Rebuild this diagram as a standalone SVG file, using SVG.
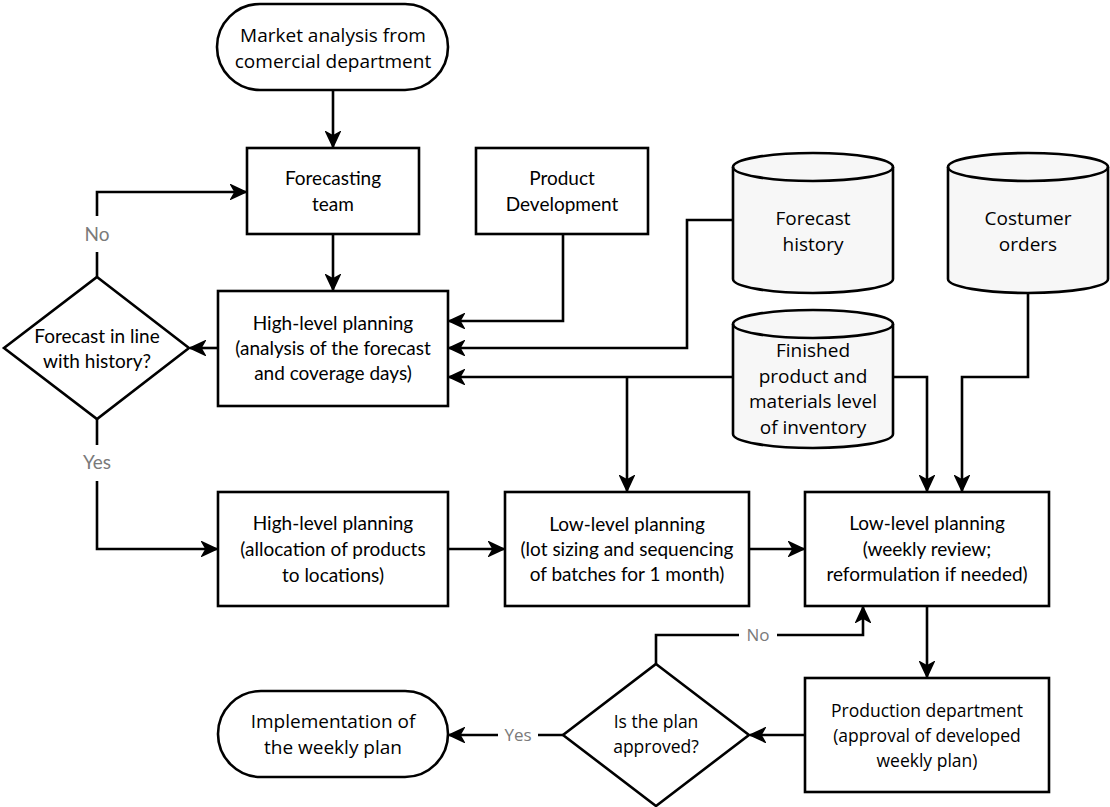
<svg xmlns="http://www.w3.org/2000/svg" width="1110" height="807" viewBox="0 0 1110 807">
  <style>
    .node { fill: #ffffff; stroke: #000000; stroke-width: 2.6; }
    .db { fill: #f7f7f7; stroke: #000000; stroke-width: 2.6; }
    .edge { fill: none; stroke: #000000; stroke-width: 2.6; }
    .t { font-family: Lato, "Open Sans", sans-serif; font-size: 19px; fill: #000000; text-anchor: middle; }
    .o { font-family: "Open Sans", "Noto Sans", sans-serif; font-size: 19px; fill: #000000; text-anchor: middle; }
    .s { font-family: "Open Sans", "Noto Sans", sans-serif; font-size: 17.5px; fill: #000000; text-anchor: middle; }
    .lbl { font-family: Lato, "Open Sans", sans-serif; font-size: 19px; fill: #7a7a7a; text-anchor: middle; }
    .lblo { font-family: "Open Sans", sans-serif; font-size: 17px; fill: #7a7a7a; text-anchor: middle; }
  </style>
  <defs>
    <marker id="arrow" markerUnits="userSpaceOnUse" markerWidth="18" markerHeight="16" viewBox="0 0 18 16" refX="16" refY="8" orient="auto">
      <path d="M1,1 L16,8 L1,15 L5,8 Z" fill="#000000" stroke="#000000" stroke-width="1.5" stroke-linejoin="miter"/>
    </marker>
  </defs>
  <rect width="1110" height="807" fill="#ffffff"/>

  <!-- connectors -->
  <g id="connectors">
    <path class="edge" d="M333,90 V147" marker-end="url(#arrow)"/>
    <path class="edge" d="M333,234 V290" marker-end="url(#arrow)"/>
    <path class="edge" d="M563,234 V321 H449" marker-end="url(#arrow)"/>
    <path class="edge" d="M733,220 H687 V348 H449" marker-end="url(#arrow)"/>
    <path class="edge" d="M733,377 H449" marker-end="url(#arrow)"/>
    <path class="edge" d="M627,377 V491" marker-end="url(#arrow)"/>
    <path class="edge" d="M893,377 H927 V491" marker-end="url(#arrow)"/>
    <path class="edge" d="M1028,293 V377 H962 V491" marker-end="url(#arrow)"/>
    <path class="edge" d="M218,348 H190" marker-end="url(#arrow)"/>
    <path class="edge" d="M97,277 V192 H246" marker-end="url(#arrow)"/>
    <path class="edge" d="M97,419 V549 H217" marker-end="url(#arrow)"/>
    <path class="edge" d="M448,549 H504" marker-end="url(#arrow)"/>
    <path class="edge" d="M749,549 H804" marker-end="url(#arrow)"/>
    <path class="edge" d="M927,606 V677" marker-end="url(#arrow)"/>
    <path class="edge" d="M805,735 H750" marker-end="url(#arrow)"/>
    <path class="edge" d="M656,664 V635 H863 V607" marker-end="url(#arrow)"/>
    <path class="edge" d="M563,735 H449" marker-end="url(#arrow)"/>
    <!-- branch labels -->
    <rect x="80" y="216" width="34" height="36" fill="#ffffff"/>
    <text class="lbl" x="97" y="241">No</text>
    <rect x="77" y="445" width="40" height="36" fill="#ffffff"/>
    <text class="lbl" x="97" y="469">Yes</text>
    <rect x="739" y="624" width="38" height="22" fill="#ffffff"/>
    <text class="lblo" x="758" y="641">No</text>
    <rect x="498" y="724" width="40" height="22" fill="#ffffff"/>
    <text class="lblo" x="518" y="741">Yes</text>
  </g>

  <g id="market-analysis">
    <rect class="node" x="217" y="4" width="231" height="86" rx="43" ry="43"/>
    <text class="o" x="333" y="42">Market analysis from</text>
    <text class="o" x="333" y="68">comercial department</text>
  </g>

  <g id="forecasting-team">
    <rect class="node" x="247" y="148" width="172" height="86"/>
    <text class="t" x="333" y="185">Forecasting</text>
    <text class="t" x="333" y="211">team</text>
  </g>

  <g id="product-development">
    <rect class="node" x="476" y="148" width="172" height="86"/>
    <text class="t" x="562" y="185">Product</text>
    <text class="t" x="562" y="211">Development</text>
  </g>

  <g id="forecast-history">
    <path class="db" d="M733,167 A80,14 0 0 1 893,167 V279 A80,14 0 0 1 733,279 Z"/>
    <path class="edge" d="M733,167 A80,14 0 0 0 893,167"/>
    <text class="o" x="813" y="225">Forecast</text>
    <text class="o" x="813" y="251">history</text>
  </g>

  <g id="costumer-orders">
    <path class="db" d="M948,167 A80,14 0 0 1 1108,167 V279 A80,14 0 0 1 948,279 Z"/>
    <path class="edge" d="M948,167 A80,14 0 0 0 1108,167"/>
    <text class="o" x="1028" y="225">Costumer</text>
    <text class="o" x="1028" y="251">orders</text>
  </g>

  <g id="inventory">
    <path class="db" d="M733,324 A80,14 0 0 1 893,324 V434 A80,14 0 0 1 733,434 Z"/>
    <path class="edge" d="M733,324 A80,14 0 0 0 893,324"/>
    <text class="o" x="813" y="357">Finished</text>
    <text class="o" x="813" y="383">product and</text>
    <text class="o" x="813" y="408">materials level</text>
    <text class="o" x="813" y="434">of inventory</text>
  </g>

  <g id="high-level-analysis">
    <rect class="node" x="218" y="291" width="230" height="115"/>
    <text class="t" x="333" y="330">High-level planning</text>
    <text class="t" x="333" y="355">(analysis of the forecast</text>
    <text class="t" x="333" y="380">and coverage days)</text>
  </g>

  <g id="forecast-check">
    <polygon class="node" points="97,277 189,348 97,419 4,348"/>
    <text class="t" x="97" y="343">Forecast in line</text>
    <text class="t" x="97" y="368">with history?</text>
  </g>

  <g id="high-level-allocation">
    <rect class="node" x="218" y="492" width="230" height="114"/>
    <text class="t" x="333" y="530">High-level planning</text>
    <text class="t" x="333" y="556">(allocation of products</text>
    <text class="t" x="333" y="582">to locations)</text>
  </g>

  <g id="low-level-lot-sizing">
    <rect class="node" x="505" y="492" width="244" height="114"/>
    <text class="t" x="627" y="531">Low-level planning</text>
    <text class="t" x="627" y="556">(lot sizing and sequencing</text>
    <text class="t" x="627" y="581">of batches for 1 month)</text>
  </g>

  <g id="low-level-weekly">
    <rect class="node" x="805" y="492" width="244" height="114"/>
    <text class="t" x="927" y="530">Low-level planning</text>
    <text class="t" x="927" y="556">(weekly review;</text>
    <text class="t" x="927" y="581">reformulation if needed)</text>
  </g>

  <g id="production-department">
    <rect class="node" x="805" y="678" width="244" height="114"/>
    <text class="s" x="927" y="717">Production department</text>
    <text class="s" x="927" y="742">(approval of developed</text>
    <text class="s" x="927" y="767">weekly plan)</text>
  </g>

  <g id="plan-approved">
    <polygon class="node" points="656,664 749,735 656,806 563,735"/>
    <text class="s" x="656" y="728">Is the plan</text>
    <text class="s" x="656" y="753">approved?</text>
  </g>

  <g id="implementation">
    <rect class="node" x="218" y="691" width="230" height="86" rx="43" ry="43"/>
    <text class="o" x="333" y="728">Implementation of</text>
    <text class="o" x="333" y="754">the weekly plan</text>
  </g>
</svg>
